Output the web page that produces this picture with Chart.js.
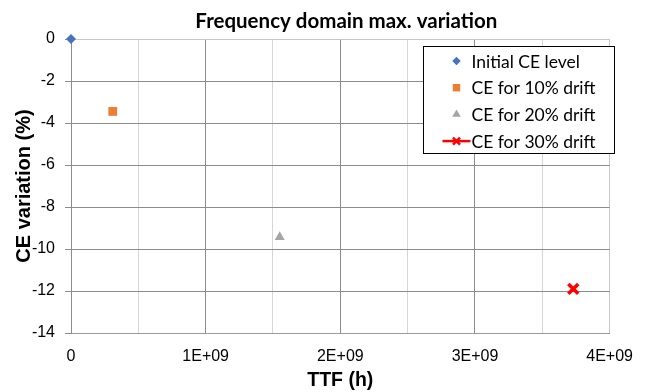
<!DOCTYPE html>
<html>
<head>
<meta charset="utf-8">
<script src="https://cdn.jsdelivr.net/npm/chart.js@4"></script>
<style>
  body { margin: 0; background: #fff; }
</style>
</head>
<body>
<canvas id="chart" width="647" height="392"></canvas>
<script>
// one point per series: time to failure (h) vs. CE change (%)
const seriesNames = ["Initial CE level", "CE for 10% drift", "CE for 20% drift", "CE for 30% drift"];
const ttfHours = [0, 3.1e8, 1.55e9, 3.73e9];
const ceVariation = [0, -3.45, -9.43, -11.9];

const colors = ["#4472C4", "#ED7D31", "#A5A5A5", "#FF0000"];
const markers = ["rectRot", "rect", "triangle", "crossRot"];
const markerSize = [5, 6.2, 5.8, 7];

const xTicks = { min: 0, max: 4e9, step: 5e8 };
const yTicks = { min: -14, max: 0, step: 2 };

const datasets = seriesNames.map((name, i) => ({
  label: name,
  data: [{ x: ttfHours[i], y: ceVariation[i] }],
  backgroundColor: colors[i],
  borderColor: colors[i],
  pointStyle: markers[i],
  pointRadius: markerSize[i],
  pointBorderWidth: i === 3 ? 3.5 : 0,
  showLine: i === 3,
  clip: false
}));

const fmtSci = (v) => {
  if (v === 0) return "0";
  if (v % 1e9 !== 0) return "";
  return (v / 1e9) + "E+09";
};

// title + boxed legend drawn inside the plot
const decorations = {
  id: "decorations",
  afterDraw(chart) {
    const ctx = chart.ctx;
    const area = chart.chartArea;
    ctx.save();
    ctx.fillStyle = "#000";
    ctx.font = "bold 20.5px Lato";
    ctx.textAlign = "center";
    ctx.textBaseline = "alphabetic";
    ctx.fillText("Frequency domain max. variation", (area.left + area.right) / 2 + 6, 27.5);

    const box = { x: 423.5, y: 46.5, w: 191, h: 107 };
    ctx.fillStyle = "#fff";
    ctx.fillRect(box.x, box.y, box.w, box.h);
    ctx.strokeStyle = "#000";
    ctx.lineWidth = 1;
    ctx.strokeRect(box.x, box.y, box.w, box.h);

    ctx.font = "17.5px Lato";
    ctx.textAlign = "left";
    ctx.textBaseline = "middle";
    chart.data.datasets.forEach((ds, i) => {
      const cy = box.y + 14.5 + i * 26.7;
      const mx = box.x + 33;
      if (ds.showLine) {
        ctx.strokeStyle = ds.borderColor;
        ctx.lineWidth = 2.5;
        ctx.beginPath();
        ctx.moveTo(box.x + 19, cy);
        ctx.lineTo(box.x + 47, cy);
        ctx.stroke();
      }
      ctx.fillStyle = ds.backgroundColor;
      ctx.strokeStyle = ds.borderColor;
      ctx.lineWidth = ds.pointBorderWidth ? 2.5 : 0;
      Chart.helpers.drawPoint(ctx, {
        pointStyle: ds.pointStyle,
        radius: ds.showLine ? 5 : ds.pointRadius * 0.85,
        borderWidth: ds.pointBorderWidth ? 2.5 : 0,
        rotation: 0
      }, mx, cy);
      ctx.fillStyle = "#000";
      ctx.fillText(ds.label, box.x + 48, cy + 1);
    });
    ctx.restore();
  }
};

new Chart(document.getElementById("chart"), {
  type: "scatter",
  data: { datasets },
  plugins: [decorations],
  options: {
    responsive: false,
    animation: false,
    layout: { padding: { top: 39, right: 27, left: 0, bottom: 0 } },
    plugins: { legend: { display: false }, tooltip: { enabled: false } },
    scales: {
      x: {
        type: "linear",
        min: xTicks.min,
        max: xTicks.max,
        afterFit(scale) { scale.height = 59; },
        ticks: {
          stepSize: xTicks.step,
          autoSkip: false,
          maxRotation: 0,
          padding: 14,
          color: "#000",
          font: { family: "Liberation Sans", size: 16 },
          callback: fmtSci
        },
        grid: {
          drawTicks: false,
          color: (c) => {
            const v = c.tick ? c.tick.value : 0;
            if (v === xTicks.max) return "#c8c8c8";
            return v % 1e9 === 0 ? "#8c8c8c" : "#d6d6d6";
          }
        },
        border: { color: "#9a9a9a" },
        title: {
          display: true,
          text: "TTF (h)",
          color: "#000",
          font: { family: "Liberation Sans", size: 19.5, weight: "bold" },
          padding: { top: 0, bottom: 0 }
        }
      },
      y: {
        min: yTicks.min,
        max: yTicks.max,
        afterFit(scale) { scale.width = 71; },
        ticks: {
          stepSize: yTicks.step,
          padding: 10,
          color: "#000",
          font: { family: "Liberation Sans", size: 16 }
        },
        grid: {
          tickLength: 6,
          tickColor: "#8c8c8c",
          color: (c) => (c.tick && c.tick.value === yTicks.max ? "#c8c8c8" : "#8c8c8c")
        },
        border: { color: "#8c8c8c" },
        title: {
          display: true,
          text: "CE variation (%)",
          color: "#000",
          font: { family: "Liberation Sans", size: 20, weight: "bold" },
          padding: { top: 12, bottom: 0 }
        }
      }
    }
  }
});
</script>
</body>
</html>
